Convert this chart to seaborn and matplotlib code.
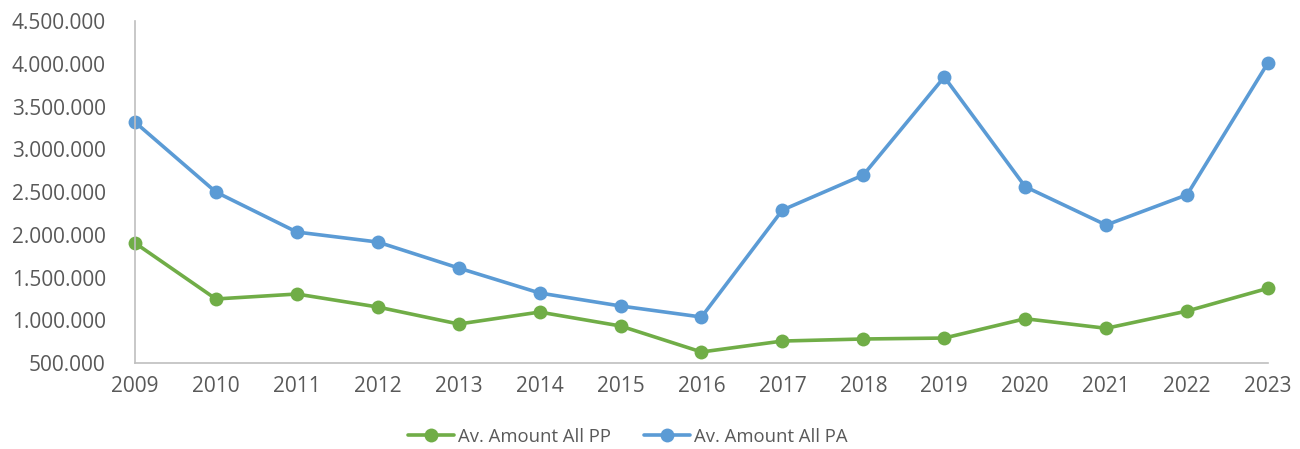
import matplotlib
matplotlib.use("Agg")
import matplotlib.pyplot as plt
import seaborn as sns
import pandas as pd
from matplotlib.ticker import FuncFormatter, MultipleLocator

years = list(range(2009, 2024))
pp_values = [1904000, 1249000, 1307000, 1155000, 956000, 1096000, 933000, 629000,
             757000, 781000, 792000, 1018000, 906000, 1108000, 1374000]
pa_values = [3318000, 2500000, 2032000, 1915000, 1611000, 1319000, 1167000, 1038000,
             2289000, 2699000, 3845000, 2562000, 2114000, 2468000, 4012000]
series_names = ["Av. Amount All PP", "Av. Amount All PA"]
colors = ["#70AD47", "#5B9BD5"]

df = pd.DataFrame({
    "year": years * 2,
    "value": pp_values + pa_values,
    "series": [series_names[0]] * len(years) + [series_names[1]] * len(years),
})

sns.set_style("white")
plt.rcParams["font.family"] = ["Open Sans", "DejaVu Sans"]
text_color = "#595959"

fig = plt.figure(figsize=(13, 4.49), dpi=100)
ax = fig.add_axes([0.1038, 0.1915, 0.9754 - 0.1038, 0.9532 - 0.1915])

sns.lineplot(data=df, x="year", y="value", hue="series", palette=colors,
             marker="o", markersize=10, linewidth=2.6, markeredgewidth=0,
             ax=ax, legend=True)

ax.set_xlim(2009, 2023)
ax.set_ylim(500000, 4500000)
ax.xaxis.set_major_locator(MultipleLocator(1))
ax.yaxis.set_major_locator(MultipleLocator(500000))
ax.yaxis.set_major_formatter(FuncFormatter(lambda v, p: f"{int(round(v)):,}".replace(",", ".")))
ax.set_xlabel("")
ax.set_ylabel("")
ax.tick_params(axis="both", length=0, labelsize=15, colors=text_color)
ax.tick_params(axis="y", pad=21)
ax.tick_params(axis="x", pad=9)
for lab in ax.get_xticklabels() + ax.get_yticklabels():
    lab.set_color(text_color)
for s in ["top", "right"]:
    ax.spines[s].set_visible(False)
for s in ["left", "bottom"]:
    ax.spines[s].set_color("#BFBFBF")
    ax.spines[s].set_linewidth(1.2)
ax.grid(False)
for line in ax.lines:
    line.set_clip_on(False)

handles, labels = ax.get_legend_handles_labels()
ax.legend(handles, labels, loc="center", bbox_to_anchor=(0.483, 0.027),
          bbox_transform=fig.transFigure, ncol=2, frameon=False, fontsize=13.3,
          labelcolor=text_color, handlelength=2.5, columnspacing=1.8, handletextpad=0.22)

fig.savefig("out.png", dpi=100)
